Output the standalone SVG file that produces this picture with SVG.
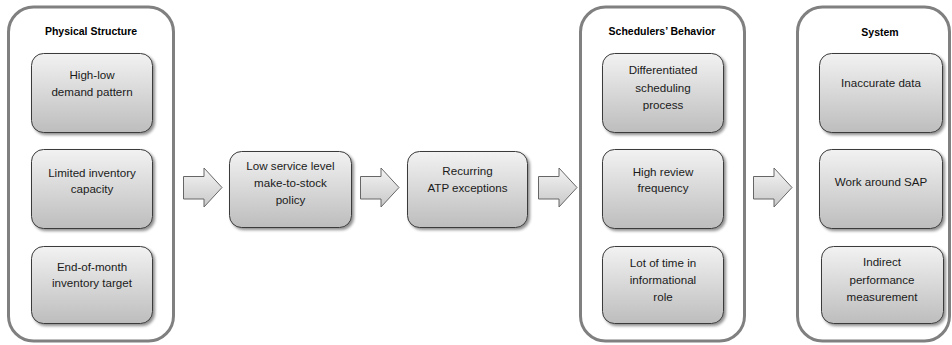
<svg xmlns="http://www.w3.org/2000/svg" width="952" height="345" viewBox="0 0 952 345">
<defs>
<linearGradient id="g" x1="0" y1="0" x2="0" y2="1">
<stop offset="0" stop-color="#f2f2f2"/>
<stop offset="1" stop-color="#bdbdbd"/>
</linearGradient>
<linearGradient id="ga" x1="0" y1="0" x2="0" y2="1">
<stop offset="0" stop-color="#f4f4f4"/>
<stop offset="1" stop-color="#c8c8c8"/>
</linearGradient>
<filter id="sh" x="-10%" y="-10%" width="125%" height="125%">
<feGaussianBlur in="SourceAlpha" stdDeviation="1.5"/>
<feOffset dx="1.5" dy="2" result="b"/>
<feComponentTransfer><feFuncA type="linear" slope="0.45"/></feComponentTransfer>
<feMerge><feMergeNode/><feMergeNode in="SourceGraphic"/></feMerge>
</filter>
</defs>
<style>
.outer{fill:#fff;stroke:#808080;stroke-width:3}
.box{fill:url(#g);stroke:#3a3a3a;stroke-width:1;filter:url(#sh)}
.arr{fill:url(#ga);stroke:#666;stroke-width:1}
text{font-family:"Liberation Sans",Arial,sans-serif;font-size:11.6px;fill:#1a1a1a;text-anchor:middle}
.t{font-weight:bold;font-size:10.5px;fill:#000}
</style>
<rect width="952" height="345" fill="#fff"/>
<g id="connectors">
<path class="arr" d="M183.5,176.5 H204 V168 L222,187.5 L204,207 V199 H183.5 Z"/>
<path class="arr" d="M360.5,176.5 H381 V168 L399,187.5 L381,207 V199 H360.5 Z"/>
<path class="arr" d="M538.5,176.5 H559 V168 L577,187.5 L559,207 V199 H538.5 Z"/>
<path class="arr" d="M753.5,176.5 H774 V168 L792,187.5 L774,207 V199 H753.5 Z"/>
</g>
<g id="physical">
<rect class="outer" x="8.5" y="7" width="165" height="334" rx="25"/>
<text class="t" x="91" y="35">Physical Structure</text>
</g>
<g id="n1"><rect class="box" x="31.5" y="53.5" width="121" height="79" rx="12"/>
<text x="92" y="79">High-low</text><text x="92" y="96">demand pattern</text></g>
<g id="n2"><rect class="box" x="31.5" y="149.5" width="121" height="79" rx="12"/>
<text x="92" y="177">Limited inventory</text><text x="92" y="193">capacity</text></g>
<g id="n3"><rect class="box" x="31.5" y="246.5" width="121" height="77" rx="12"/>
<text x="92" y="271">End-of-month</text><text x="92" y="287">inventory target</text></g>
<g id="n4"><rect class="box" x="229.5" y="151.5" width="122" height="76" rx="12"/>
<text x="290.5" y="170">Low service level</text><text x="290.5" y="187">make-to-stock</text><text x="290.5" y="204">policy</text></g>
<g id="n5"><rect class="box" x="407.5" y="151.5" width="120" height="76" rx="12"/>
<text x="467.5" y="175">Recurring</text><text x="467.5" y="192">ATP exceptions</text></g>
<g id="schedulers">
<rect class="outer" x="580.5" y="7" width="164" height="334" rx="25"/>
<text class="t" x="662" y="35">Schedulers’ Behavior</text>
</g>
<g id="n6"><rect class="box" x="602.5" y="53.5" width="121" height="79" rx="12"/>
<text x="663" y="74">Differentiated</text><text x="663" y="92">scheduling</text><text x="663" y="109">process</text></g>
<g id="n7"><rect class="box" x="602.5" y="149.5" width="121" height="79" rx="12"/>
<text x="663" y="176">High review</text><text x="663" y="192">frequency</text></g>
<g id="n8"><rect class="box" x="602.5" y="246.5" width="121" height="77" rx="12"/>
<text x="663" y="267">Lot of time in</text><text x="663" y="284">informational</text><text x="663" y="301">role</text></g>
<g id="system">
<rect class="outer" x="797.5" y="7" width="152" height="334" rx="25"/>
<text class="t" x="880" y="36">System</text>
</g>
<g id="n9"><rect class="box" x="819.5" y="53.5" width="123" height="79" rx="12"/>
<text x="881" y="87">Inaccurate data</text></g>
<g id="n10"><rect class="box" x="819.5" y="149.5" width="123" height="79" rx="12"/>
<text x="881" y="186">Work around SAP</text></g>
<g id="n11"><rect class="box" x="821.5" y="246.5" width="122" height="77" rx="12"/>
<text x="882" y="266">Indirect</text><text x="882" y="284">performance</text><text x="882" y="301">measurement</text></g>
</svg>
